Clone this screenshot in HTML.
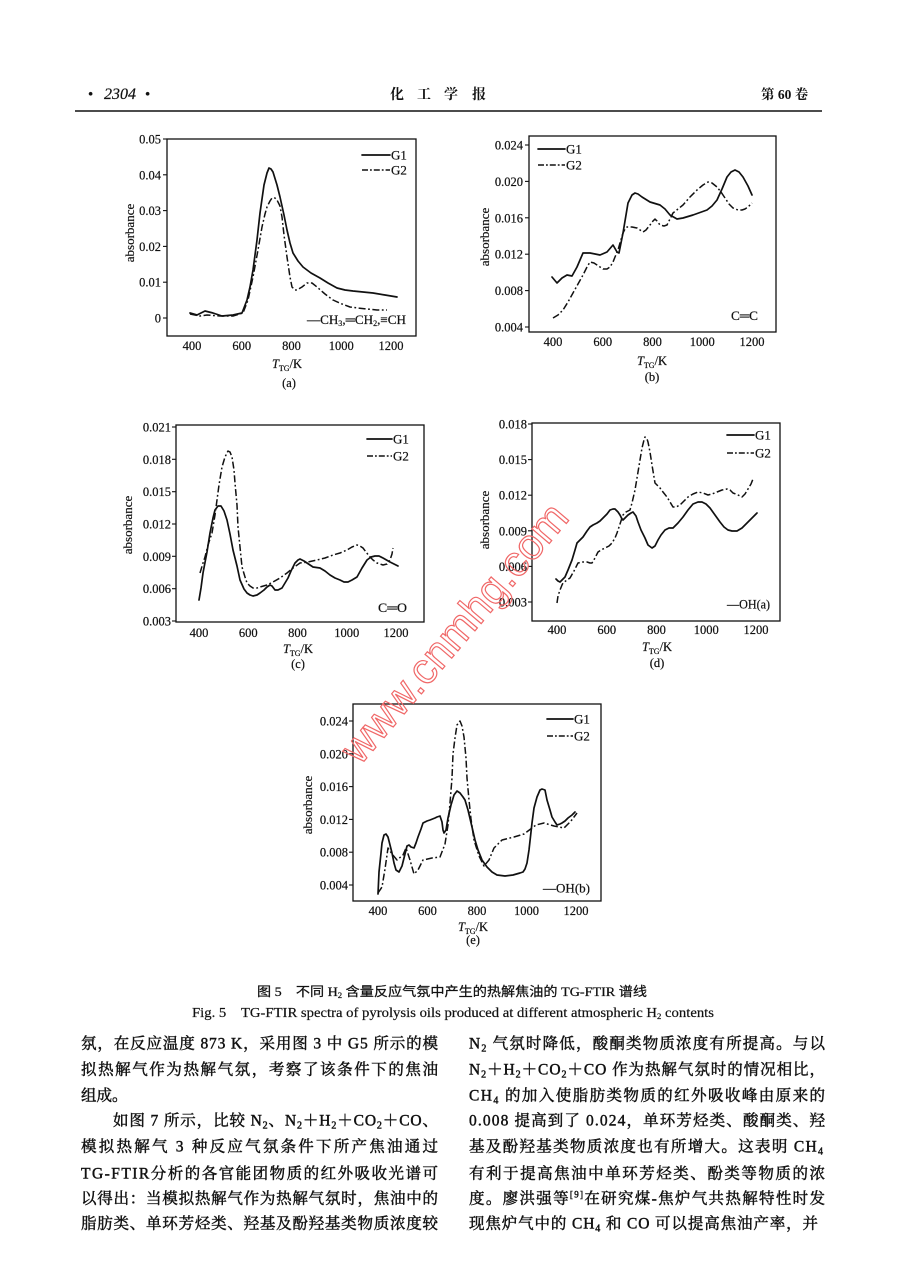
<!DOCTYPE html>
<html><head><meta charset="utf-8">
<style>
html,body{margin:0;padding:0;background:#fff;}
svg{display:block;}
.ax{font-family:"Liberation Serif","DejaVu Serif",serif;font-size:12.5px;fill:#111;stroke:#111;stroke-width:0.2;}
.lg{font-family:"Liberation Serif","DejaVu Serif",serif;font-size:13px;fill:#111;stroke:#111;stroke-width:0.2;}
.bd{font-family:"Liberation Serif","Noto Serif CJK SC",serif;font-size:15.5px;fill:#111;stroke:#111;stroke-width:0.45;}
.g1{fill:none;stroke:#111;stroke-width:1.7;stroke-linejoin:round;stroke-linecap:round;}
.g2{fill:none;stroke:#111;stroke-width:1.5;stroke-dasharray:7 2.5 1.8 2.5;stroke-linejoin:round;}
.fr{fill:none;stroke:#111;stroke-width:1.3;}
.tk{stroke:#111;stroke-width:1.1;}
</style></head>
<body>
<svg width="904" height="1262" viewBox="0 0 904 1262" xmlns="http://www.w3.org/2000/svg">
<rect width="904" height="1262" fill="#fff"/>

<!-- Header -->
<text x="88" y="99" class="ax" style="font-size:15px">•</text>
<text x="104" y="99" style="font-family:'Liberation Serif',serif;font-style:italic;font-size:16px;fill:#111;stroke:#111;stroke-width:0.2">2304</text>
<text x="145" y="99" class="ax" style="font-size:15px">•</text>
<g style="font-family:'Noto Serif CJK SC','Noto Sans CJK SC',serif;font-size:14px;font-weight:bold;fill:#111" text-anchor="middle">
<text x="397" y="99">化</text><text x="424" y="99">工</text><text x="451" y="99">学</text><text x="479" y="99">报</text>
</g>
<text x="761" y="99" style="font-family:'Liberation Serif','Noto Serif CJK SC',serif;font-size:13.5px;font-weight:bold;fill:#111">第 60 卷</text>
<line x1="75" y1="111" x2="822" y2="111" stroke="#111" stroke-width="1.4"/>

<!-- Chart (a) -->
<rect x="167" y="139" width="249" height="197" class="fr"/>
<g class="ax" text-anchor="end">
<text x="161" y="143.5">0.05</text><text x="161" y="179.3">0.04</text><text x="161" y="215.1">0.03</text><text x="161" y="250.9">0.02</text><text x="161" y="286.7">0.01</text><text x="161" y="322.5">0</text>
</g>
<g class="tk"><line x1="163" y1="139" x2="167" y2="139"/><line x1="163" y1="174.8" x2="167" y2="174.8"/><line x1="163" y1="210.6" x2="167" y2="210.6"/><line x1="163" y1="246.4" x2="167" y2="246.4"/><line x1="163" y1="282.2" x2="167" y2="282.2"/><line x1="163" y1="318" x2="167" y2="318"/></g>
<g class="ax" text-anchor="middle">
<text x="192" y="350">400</text><text x="241.8" y="350">600</text><text x="291.5" y="350">800</text><text x="341.3" y="350">1000</text><text x="391" y="350">1200</text>
<text x="287" y="368"><tspan font-style="italic">T</tspan><tspan font-size="8" dy="3">TG</tspan><tspan dy="-3">/K</tspan></text>
<text x="289" y="387">(a)</text>
</g>
<text class="ax" text-anchor="middle" transform="translate(134,233) rotate(-90)" style="font-size:13px">absorbance</text>
<line x1="362" y1="155" x2="390" y2="155" class="g1"/><text x="391" y="159.5" class="lg">G1</text>
<line x1="362" y1="170" x2="390" y2="170" class="g2" style="stroke-dasharray:6 2 1.8 2"/><text x="391" y="174.5" class="lg">G2</text>
<text x="307" y="324" class="lg" textLength="99" lengthAdjust="spacingAndGlyphs">—CH<tspan font-size="8" dy="2">3</tspan><tspan dy="-2">,═CH</tspan><tspan font-size="8" dy="2">2</tspan><tspan dy="-2">,≡CH</tspan></text>
<polyline class="g1" points="190,313 197,315 205,311 213,313 222,316 233,315 242,313 247,300 250,287 253,270 257,240 260,213 264,185 267,173 269,168 271,169 273,172 277,185 280,197 284,215 287,230 290,243 293,253 298,261 303,267 311,273 320,278 328,283 337,288 345,290 353,291 363,292 373,293 385,295 397,297"/>
<polyline class="g2" points="190,314 200,316 207,315 220,316 233,316 243,313 248,300 253,277 258,250 262,227 265,214 267,207 270,201 272,198 275,198 277,200 280,206 282,217 284,235 287,257 290,277 292,287 295,290 297,290 302,287 307,283 312,283 317,287 325,294 333,300 342,304 350,307 358,308 367,309 377,310 387,310"/>

<!-- Chart (b) -->
<rect x="529" y="136" width="247" height="196" class="fr"/>
<g class="ax" text-anchor="end">
<text x="523" y="149.5">0.024</text><text x="523" y="185.9">0.020</text><text x="523" y="222.3">0.016</text><text x="523" y="258.7">0.012</text><text x="523" y="295.1">0.008</text><text x="523" y="331.5">0.004</text>
</g>
<g class="tk"><line x1="525" y1="145" x2="529" y2="145"/><line x1="525" y1="181.4" x2="529" y2="181.4"/><line x1="525" y1="217.8" x2="529" y2="217.8"/><line x1="525" y1="254.2" x2="529" y2="254.2"/><line x1="525" y1="290.6" x2="529" y2="290.6"/><line x1="525" y1="327" x2="529" y2="327"/></g>
<g class="ax" text-anchor="middle">
<text x="553" y="346">400</text><text x="602.8" y="346">600</text><text x="652.5" y="346">800</text><text x="702.3" y="346">1000</text><text x="752" y="346">1200</text>
<text x="652" y="365"><tspan font-style="italic">T</tspan><tspan font-size="8" dy="3">TG</tspan><tspan dy="-3">/K</tspan></text>
<text x="652" y="381">(b)</text>
</g>
<text class="ax" text-anchor="middle" transform="translate(489,237) rotate(-90)" style="font-size:13px">absorbance</text>
<line x1="538" y1="149" x2="565" y2="149" class="g1"/><text x="566" y="153.5" class="lg">G1</text>
<line x1="538" y1="165" x2="565" y2="165" class="g2" style="stroke-dasharray:6 2 1.8 2"/><text x="566" y="169.5" class="lg">G2</text>
<text x="731" y="320" class="lg" textLength="27" lengthAdjust="spacingAndGlyphs">C═C</text>
<polyline class="g1" points="552,277 557,283 562,278 567,275 572,276 577,267 583,253 590,253 600,255 607,252 613,245 617,252 619,253 623,233 628,203 632,195 635,193 638,194 642,197 650,202 660,205 665,209 670,215 677,219 683,218 693,215 707,210 712,206 717,200 722,189 727,177 731,172 735,170 739,172 743,177 748,186 752,195"/>
<polyline class="g2" points="553,318 558,315 563,310 568,302 573,293 578,284 583,275 587,267 590,262 594,263 597,265 600,267 603,269 607,269 610,267 613,262 615,257 618,250 620,243 623,233 625,229 627,227 632,227 637,228 643,232 646,230 650,225 653,221 655,219 657,221 660,225 664,226 667,225 670,219 673,213 678,209 683,205 690,197 697,190 703,185 708,182 712,183 717,187 721,192 725,198 729,204 733,208 738,210 742,210 745,209 748,207 752,203"/>

<!-- Chart (c) -->
<rect x="176" y="425" width="248" height="197" class="fr"/>
<g class="ax" text-anchor="end">
<text x="171" y="431.5">0.021</text><text x="171" y="463.8">0.018</text><text x="171" y="496.2">0.015</text><text x="171" y="528.5">0.012</text><text x="171" y="560.8">0.009</text><text x="171" y="593.2">0.006</text><text x="171" y="625.5">0.003</text>
</g>
<g class="tk"><line x1="172" y1="427" x2="176" y2="427"/><line x1="172" y1="459.3" x2="176" y2="459.3"/><line x1="172" y1="491.7" x2="176" y2="491.7"/><line x1="172" y1="524" x2="176" y2="524"/><line x1="172" y1="556.3" x2="176" y2="556.3"/><line x1="172" y1="588.7" x2="176" y2="588.7"/><line x1="172" y1="621" x2="176" y2="621"/></g>
<g class="ax" text-anchor="middle">
<text x="199" y="637">400</text><text x="248.3" y="637">600</text><text x="297.5" y="637">800</text><text x="346.8" y="637">1000</text><text x="396" y="637">1200</text>
<text x="298" y="653"><tspan font-style="italic">T</tspan><tspan font-size="8" dy="3">TG</tspan><tspan dy="-3">/K</tspan></text>
<text x="298" y="668">(c)</text>
</g>
<text class="ax" text-anchor="middle" transform="translate(132,525) rotate(-90)" style="font-size:13px">absorbance</text>
<line x1="367" y1="439" x2="392" y2="439" class="g1"/><text x="393" y="443.5" class="lg">G1</text>
<line x1="367" y1="456" x2="392" y2="456" class="g2" style="stroke-dasharray:6 2 1.8 2"/><text x="393" y="460.5" class="lg">G2</text>
<text x="378" y="612" class="lg" textLength="29" lengthAdjust="spacingAndGlyphs">C═O</text>
<polyline class="g1" points="199,600 201,588 203,573 207,552 210,533 213,518 215,510 218,506 221,506 224,511 227,520 230,534 233,550 237,566 240,580 244,589 247,593 250,595 253,596 257,595 260,593 264,590 267,587 270,585 272,586 275,590 278,590 282,588 285,583 288,578 291,571 295,563 298,560 300,559 304,561 307,563 313,567 320,568 325,571 330,575 335,578 340,580 344,582 348,582 352,580 357,577 362,568 367,560 371,557 375,556 379,556 383,558 390,562 398,566"/>
<polyline class="g2" points="200,573 203,563 205,557 208,545 212,533 215,515 217,500 219,485 222,467 225,457 228,451 230,452 232,457 234,470 235,483 237,505 238,527 240,547 242,567 245,577 247,583 250,586 253,588 257,588 260,587 267,585 273,582 280,578 287,573 293,568 300,563 308,562 317,560 325,558 333,555 340,553 347,550 352,547 357,545 360,546 363,548 366,552 370,557 373,560 377,563 380,564 383,565 387,564 390,560 392,554 393,548"/>

<!-- Chart (d) -->
<rect x="532" y="423" width="248" height="198" class="fr"/>
<g class="ax" text-anchor="end">
<text x="527" y="428.5">0.018</text><text x="527" y="464.1">0.015</text><text x="527" y="499.7">0.012</text><text x="527" y="535.3">0.009</text><text x="527" y="570.9">0.006</text><text x="527" y="606.5">0.003</text>
</g>
<g class="tk"><line x1="528" y1="424" x2="532" y2="424"/><line x1="528" y1="459.6" x2="532" y2="459.6"/><line x1="528" y1="495.2" x2="532" y2="495.2"/><line x1="528" y1="530.8" x2="532" y2="530.8"/><line x1="528" y1="566.4" x2="532" y2="566.4"/><line x1="528" y1="602" x2="532" y2="602"/></g>
<g class="ax" text-anchor="middle">
<text x="557" y="634">400</text><text x="606.8" y="634">600</text><text x="656.5" y="634">800</text><text x="706.3" y="634">1000</text><text x="756" y="634">1200</text>
<text x="657" y="651"><tspan font-style="italic">T</tspan><tspan font-size="8" dy="3">TG</tspan><tspan dy="-3">/K</tspan></text>
<text x="657" y="667">(d)</text>
</g>
<text class="ax" text-anchor="middle" transform="translate(489,520) rotate(-90)" style="font-size:13px">absorbance</text>
<line x1="727" y1="435" x2="754" y2="435" class="g1"/><text x="755" y="439.5" class="lg">G1</text>
<line x1="727" y1="453" x2="754" y2="453" class="g2" style="stroke-dasharray:6 2 1.8 2"/><text x="755" y="457.5" class="lg">G2</text>
<text x="727" y="608.5" class="lg" textLength="43" lengthAdjust="spacingAndGlyphs">—OH(a)</text>
<polyline class="g1" points="556,579 558,581 560,582 562,580 565,577 568,570 572,560 575,550 577,543 580,540 583,537 587,531 590,527 593,525 597,523 600,521 603,518 607,514 610,510 613,509 615,509 618,512 620,515 622,519 623,520 626,517 628,515 631,513 633,512 636,516 638,522 641,530 645,538 648,545 652,548 655,546 658,540 661,535 665,530 669,528 673,528 678,523 683,517 688,510 693,504 698,502 702,502 706,504 710,508 715,515 720,522 724,527 728,530 732,531 737,531 742,528 747,523 752,518 757,513"/>
<polyline class="g2" points="557,603 558,596 560,590 562,585 563,583 567,580 570,578 574,571 578,563 583,562 587,562 590,563 592,563 595,558 598,552 601,550 605,548 609,546 612,543 615,538 617,533 620,524 623,515 626,512 630,510 632,503 635,490 637,478 640,460 642,448 644,440 645,437 647,439 648,442 650,452 652,465 654,477 655,483 658,486 660,488 663,492 667,497 670,502 673,507 676,507 680,505 684,501 688,497 693,494 698,492 703,493 708,495 712,494 717,492 722,490 727,489 730,490 733,493 738,495 742,497 745,494 748,489 751,484 753,479"/>

<!-- Chart (e) -->
<rect x="353" y="704" width="248" height="197" class="fr"/>
<g class="ax" text-anchor="end">
<text x="348" y="725.5">0.024</text><text x="348" y="758.3">0.020</text><text x="348" y="791.1">0.016</text><text x="348" y="823.9">0.012</text><text x="348" y="856.7">0.008</text><text x="348" y="889.5">0.004</text>
</g>
<g class="tk"><line x1="349" y1="721" x2="353" y2="721"/><line x1="349" y1="753.8" x2="353" y2="753.8"/><line x1="349" y1="786.6" x2="353" y2="786.6"/><line x1="349" y1="819.4" x2="353" y2="819.4"/><line x1="349" y1="852.2" x2="353" y2="852.2"/><line x1="349" y1="885" x2="353" y2="885"/></g>
<g class="ax" text-anchor="middle">
<text x="378" y="915">400</text><text x="427.5" y="915">600</text><text x="477" y="915">800</text><text x="526.5" y="915">1000</text><text x="576" y="915">1200</text>
<text x="473" y="931"><tspan font-style="italic">T</tspan><tspan font-size="8" dy="3">TG</tspan><tspan dy="-3">/K</tspan></text>
<text x="473" y="944">(e)</text>
</g>
<text class="ax" text-anchor="middle" transform="translate(312,805) rotate(-90)" style="font-size:13px">absorbance</text>
<line x1="547" y1="719" x2="573" y2="719" class="g1"/><text x="574" y="723.5" class="lg">G1</text>
<line x1="547" y1="736" x2="573" y2="736" class="g2" style="stroke-dasharray:6 2 1.8 2"/><text x="574" y="740.5" class="lg">G2</text>
<text x="543" y="892.5" class="lg" textLength="47" lengthAdjust="spacingAndGlyphs">—OH(b)</text>
<polyline class="g1" points="378,894 379,872 381,853 382,843 384,835 386,834 388,837 390,845 392,853 394,863 396,870 399,872 402,866 404,858 406,850 407,846 409,845 411,847 414,848 416,843 418,837 421,829 423,823 427,821 430,820 435,818 437,817 440,816 442,822 443,830 444,833 446,830 448,818 451,805 454,795 457,791 460,793 463,797 465,800 468,810 472,827 475,840 478,850 482,860 487,867 492,872 497,875 505,876 513,875 520,873 523,872 525,869 527,863 529,850 532,823 534,808 537,797 540,790 542,789 545,790 547,800 550,810 552,817 555,822 557,825 560,824 562,823 565,821 568,818 572,815 575,812"/>
<polyline class="g2" points="378,893 382,887 385,869 388,848 392,854 397,860 403,855 406,848 410,860 414,874 418,870 423,860 432,858 440,857 445,844 448,825 450,803 452,778 453,754 455,738 457,725 460,721 462,726 464,737 466,758 467,778 469,800 471,819 474,840 479,856 484,866 489,860 494,848 502,840 514,837 524,834 536,825 544,823 554,826 564,828 571,821 577,813"/>

<!-- Captions -->
<text x="257" y="996" textLength="390" lengthAdjust="spacingAndGlyphs" style="font-family:'Liberation Serif','Noto Sans CJK SC',sans-serif;font-size:13px;fill:#111;stroke:#111;stroke-width:0.25">图 5　不同 H<tspan font-size="8" dy="2">2</tspan><tspan dy="-2"> 含量反应气氛中产生的热解焦油的 TG-FTIR 谱线</tspan></text>
<text x="192" y="1017" textLength="522" lengthAdjust="spacingAndGlyphs" style="font-family:'Liberation Serif',serif;font-size:13.5px;fill:#111;stroke:#111;stroke-width:0.2">Fig. 5　TG-FTIR spectra of pyrolysis oils produced at different atmospheric H<tspan font-size="8" dy="2">2</tspan><tspan dy="-2"> contents</tspan></text>

<!-- Body left -->
<g class="bd">
<text x="81" y="1048.5" textLength="357" lengthAdjust="spacing">氛，在反应温度 873 K，采用图 3 中 G5 所示的模</text>
<text x="81" y="1074.5" textLength="357" lengthAdjust="spacing">拟热解气作为热解气氛，考察了该条件下的焦油</text>
<text x="81" y="1100.5">组成。</text>
<text x="113" y="1125.5" textLength="325" lengthAdjust="spacing">如图 7 所示，比较 N<tspan font-size="10" dy="3">2</tspan><tspan dy="-3">、N</tspan><tspan font-size="10" dy="3">2</tspan><tspan dy="-3">＋H</tspan><tspan font-size="10" dy="3">2</tspan><tspan dy="-3">＋CO</tspan><tspan font-size="10" dy="3">2</tspan><tspan dy="-3">＋CO、</tspan></text>
<text x="81" y="1151.5" textLength="357" lengthAdjust="spacing">模拟热解气 3 种反应气氛条件下所产焦油通过</text>
<text x="81" y="1178.5" textLength="357" lengthAdjust="spacing">TG-FTIR分析的各官能团物质的红外吸收光谱可</text>
<text x="81" y="1203.5" textLength="357" lengthAdjust="spacing">以得出：当模拟热解气作为热解气氛时，焦油中的</text>
<text x="81" y="1228.5" textLength="357" lengthAdjust="spacing">脂肪类、单环芳烃类、羟基及酚羟基类物质浓度较</text>
</g>

<!-- Body right -->
<g class="bd">
<text x="469" y="1048.5" textLength="356" lengthAdjust="spacing">N<tspan font-size="10" dy="3">2</tspan><tspan dy="-3"> 气氛时降低，酸酮类物质浓度有所提高。与以</tspan></text>
<text x="469" y="1074.5" textLength="356" lengthAdjust="spacing">N<tspan font-size="10" dy="3">2</tspan><tspan dy="-3">＋H</tspan><tspan font-size="10" dy="3">2</tspan><tspan dy="-3">＋CO</tspan><tspan font-size="10" dy="3">2</tspan><tspan dy="-3">＋CO 作为热解气氛时的情况相比，</tspan></text>
<text x="469" y="1100.5" textLength="356" lengthAdjust="spacing">CH<tspan font-size="10" dy="3">4</tspan><tspan dy="-3"> 的加入使脂肪类物质的红外吸收峰由原来的</tspan></text>
<text x="469" y="1125.5" textLength="356" lengthAdjust="spacing">0.008 提高到了 0.024，单环芳烃类、酸酮类、羟</text>
<text x="469" y="1151.5" textLength="354" lengthAdjust="spacing">基及酚羟基类物质浓度也有所增大。这表明 CH<tspan font-size="10" dy="3">4</tspan></text>
<text x="469" y="1178.5" textLength="356" lengthAdjust="spacing">有利于提高焦油中单环芳烃类、酚类等物质的浓</text>
<text x="469" y="1203.5" textLength="356" lengthAdjust="spacing">度。廖洪强等<tspan font-size="9" dy="-6">[9]</tspan><tspan dy="6">在研究煤-焦炉气共热解特性时发</tspan></text>
<text x="469" y="1228.5" textLength="349" lengthAdjust="spacing">现焦炉气中的 CH<tspan font-size="10" dy="3">4</tspan><tspan dy="-3"> 和 CO 可以提高焦油产率，并</tspan></text>
</g>

<!-- Watermark -->
<text x="360" y="766" transform="rotate(-49.6 360 766)" style="font-family:'Liberation Sans',sans-serif;font-size:43px;fill:none;stroke:#f06868;stroke-width:1.2">www.cnmhg.com</text>
</svg>
</body></html>
